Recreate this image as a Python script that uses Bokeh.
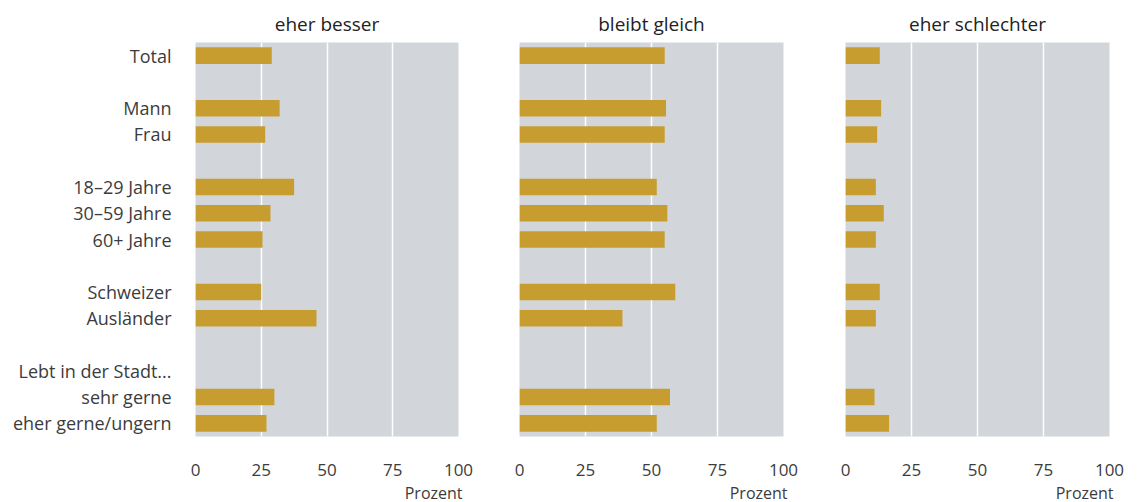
import math
from bokeh.plotting import figure
from bokeh.layouts import row
from bokeh.models import Range1d, FixedTicker, Title, ColumnDataSource
from bokeh.embed import file_html
from bokeh.resources import INLINE

# ---- data ----
groups = [
    ["Total"],
    ["Mann", "Frau"],
    ["18–29 Jahre", "30–59 Jahre", "60+ Jahre"],
    ["Schweizer", "Ausländer"],
    ["Lebt in der Stadt...", "sehr gerne", "eher gerne/ungern"],
]
besser = [29, 32, 26.5, 37.5, 28.5, 25.5, 25, 46, None, 30, 27]
gleich = [55, 55.5, 55, 52, 56, 55, 59, 39, None, 57, 52]
schlechter = [13, 13.5, 12, 11.5, 14.5, 11.5, 13, 11.5, None, 11, 16.5]
panel_titles = ["eher besser", "bleibt gleich", "eher schlechter"]
x_ticks = [0, 25, 50, 75, 100]
grid_ticks = [25, 50, 75]
unit_label = "Prozent"

# ---- layout of category slots (a blank slot between groups) ----
cats, ys = [], []
slot = 0
for gi, g in enumerate(groups):
    if gi > 0:
        slot += 1
    for c in g:
        cats.append(c)
        ys.append(slot)
        slot += 1
n_slots = slot

FONT = "Open Sans"
BAR = "#C79D30"
BG = "#D2D6DA"
TXT = "#3c3c3c"


def make(i, values, title):
    lefts = [195, 31, 31]
    rights = [30, 31, 25]
    p = figure(
        frame_width=263 if i == 0 else 264,
        frame_height=394,
        x_range=Range1d(0, 100),
        y_range=Range1d(n_slots - 0.5, -0.5),
        output_backend="svg",
        toolbar_location=None,
        min_border_left=lefts[i],
        min_border_right=rights[i],
        min_border_top=42,
        min_border_bottom=58,
        title=title,
    )
    yy = [y for y, v in zip(ys, values) if v is not None]
    vv = [v for v in values if v is not None]
    src = ColumnDataSource(dict(y=yy, v=vv))
    p.hbar(y="y", left=0, right="v", height=0.63, source=src,
           fill_color=BAR, line_color=None)

    p.background_fill_color = BG
    p.border_fill_color = "white"
    p.outline_line_color = None

    p.ygrid.visible = False
    p.xgrid.ticker = FixedTicker(ticks=grid_ticks)
    p.xgrid.grid_line_color = "white"
    p.xgrid.grid_line_width = 1.5

    ax = p.xaxis[0]
    ax.ticker = FixedTicker(ticks=x_ticks)
    ax.axis_line_color = None
    ax.major_tick_line_color = None
    ax.minor_tick_line_color = None
    ax.major_label_standoff = 21
    ax.major_label_text_font = FONT
    ax.major_label_text_font_size = "17px"
    ax.major_label_text_color = TXT

    ya = p.yaxis[0]
    if i == 0:
        ya.ticker = FixedTicker(ticks=ys)
        ya.major_label_overrides = {y: c for y, c in zip(ys, cats)}
        ya.axis_line_color = None
        ya.major_tick_line_color = None
        ya.minor_tick_line_color = None
        ya.major_label_standoff = 18
        ya.major_label_text_font = FONT
        ya.major_label_text_font_size = "18px"
        ya.major_label_text_color = TXT
    else:
        ya.visible = False

    p.title.align = "center"
    p.title.text_font = FONT
    p.title.text_font_size = "19px"
    p.title.text_font_style = "normal"
    p.title.text_color = "#222222"
    p.title.standoff = 12

    unit = Title(text=unit_label, align="right", text_font=FONT,
                 text_font_size="16px", text_font_style="normal",
                 text_color=TXT, standoff=3, offset=-4)
    p.add_layout(unit, "below")
    return p


figs = [make(i, vals, t) for i, (vals, t) in
        enumerate(zip([besser, gleich, schlechter], panel_titles))]
layout = row(*figs, spacing=0)

open("out.html", "w").write(file_html(layout, INLINE))
